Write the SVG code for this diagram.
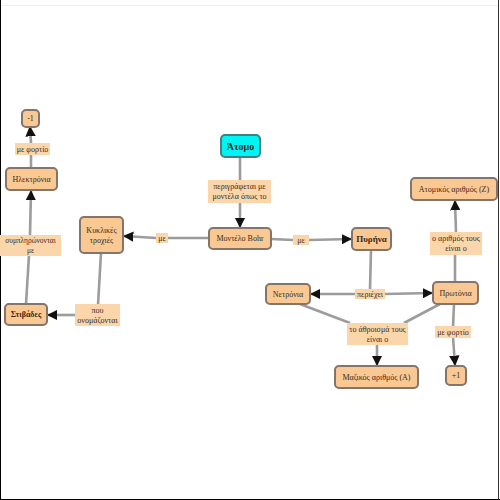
<svg xmlns="http://www.w3.org/2000/svg" width="500" height="500" viewBox="0 0 500 500">
<style>
.n rect{fill:#f9c893;stroke:#85746a;stroke-width:2}
.n text,.l text{font-family:"Liberation Serif","DejaVu Serif",serif;font-size:8px;fill:#3a2a1a;text-anchor:middle;dominant-baseline:central}
.l rect{fill:#fcd6ab}
.c path{fill:none;stroke:#9c9c9c;stroke-width:2.6}
#atomo rect{fill:#00f4f4;stroke:#3f8282}
.b{font-weight:bold}
#atomo text{font-size:10px}
#pyrinas text{font-size:9px}
#l5 text{font-size:7.4px}
</style>
<defs>
<marker id="a" viewBox="0 0 10 10" refX="9" refY="5" markerWidth="4" markerHeight="4" orient="auto" markerUnits="strokeWidth">
<path d="M0,0L10,5L0,10z" fill="#111"/>
</marker>
</defs>
<rect x="0" y="0" width="500" height="500" fill="#fff"/>
<g id="frame" fill="none">
<path d="M0,5.5H499" stroke="#eeeeee"/>
<path d="M0.5,0V500M0,499.5H500" stroke="#000"/>
<path d="M498.5,0V500" stroke="#333"/>
</g>
<g class="c">
<path d="M240,157V180"/>
<path d="M240,203V227" marker-end="url(#a)"/>
<path d="M209,238L168,238"/>
<path d="M156,238L124,236" marker-end="url(#a)"/>
<path d="M271,239L293,240"/>
<path d="M309,240L351,239" marker-end="url(#a)"/>
<path d="M101,253L98,305"/>
<path d="M75,315L48,315" marker-end="url(#a)"/>
<path d="M26,304L29,255"/>
<path d="M30,235L31,191" marker-end="url(#a)"/>
<path d="M31,168L31,155"/>
<path d="M31,143L30,127" marker-end="url(#a)"/>
<path d="M371,250L370,289"/>
<path d="M355,294L311,294" marker-end="url(#a)"/>
<path d="M385,294L432,293" marker-end="url(#a)"/>
<path d="M300,304L350,323"/>
<path d="M440,304L404,323"/>
<path d="M377,345V365" marker-end="url(#a)"/>
<path d="M455,282L455,255"/>
<path d="M456,232L455,201" marker-end="url(#a)"/>
<path d="M454,304L453,327"/>
<path d="M453,337L455,365" marker-end="url(#a)"/>
</g>
<g id="atomo" class="n"><rect x="221" y="135" width="39" height="22" rx="4"/><text x="240.5" y="146" class="b">Άτομο</text></g>
<g id="bohr" class="n"><rect x="209" y="228" width="62" height="21" rx="4"/><text x="240" y="238.5">Μοντέλο Bohr</text></g>
<g id="troxies" class="n"><rect x="80" y="217" width="43" height="36" rx="4"/><text x="101.5" y="230">Κυκλικές</text><text x="101.5" y="240">τροχιές</text></g>
<g id="pyrinas" class="n"><rect x="352" y="228" width="39" height="22" rx="4"/><text x="371.5" y="239" class="b">Πυρήνα</text></g>
<g id="stivades" class="n"><rect x="5" y="304" width="42" height="21" rx="4"/><text x="26" y="314.5" class="b">Στιβάδες</text></g>
<g id="ilektronia" class="n"><rect x="6" y="168" width="51" height="22" rx="4"/><text x="31.5" y="179">Ηλεκτρόνια</text></g>
<g id="minus1" class="n"><rect x="22" y="110" width="17" height="17" rx="4"/><text x="30.5" y="118.5">-1</text></g>
<g id="netronia" class="n"><rect x="266" y="284" width="44" height="20" rx="4"/><text x="288" y="294">Νετρόνια</text></g>
<g id="protonia" class="n"><rect x="433" y="282" width="45" height="22" rx="4"/><text x="455.5" y="293">Πρωτόνια</text></g>
<g id="mazikos" class="n"><rect x="335" y="366" width="83" height="22" rx="4"/><text x="376.5" y="377">Μαζικός αριθμός (A)</text></g>
<g id="plus1" class="n"><rect x="446" y="366" width="20" height="19" rx="4"/><text x="456" y="375.5">+1</text></g>
<g id="atomikos" class="n"><rect x="411" y="178" width="86" height="22" rx="4"/><text x="454" y="189">Ατομικός αριθμός (Z)</text></g>
<g class="l">
<g id="l1"><rect x="208" y="180" width="63" height="23"/><text x="239.5" y="186.5">περιγράφεται με</text><text x="239.5" y="196.5">μοντέλα όπως το</text></g>
<g id="l2"><rect x="156" y="233" width="12" height="10"/><text x="162" y="238">με</text></g>
<g id="l3"><rect x="293" y="235" width="16" height="10"/><text x="301" y="240">με</text></g>
<g id="l4"><rect x="75" y="304" width="45" height="22"/><text x="97.5" y="310">που</text><text x="97.5" y="320">ονομάζονται</text></g>
<g id="l5"><rect x="0" y="235" width="61" height="21"/><text x="30.5" y="240.5">συμπληρώνονται</text><text x="30.5" y="250.5">με</text></g>
<g id="l6"><rect x="15" y="143" width="35" height="12"/><text x="32.5" y="149">με φορτίο</text></g>
<g id="l7"><rect x="355" y="289" width="30" height="10"/><text x="370" y="294">περιέχει</text></g>
<g id="l8"><rect x="347" y="323" width="61" height="22"/><text x="377.5" y="329">το άθροισμά τους</text><text x="377.5" y="339">είναι ο</text></g>
<g id="l9"><rect x="435" y="326" width="36" height="12"/><text x="453" y="332">με φορτίο</text></g>
<g id="l10"><rect x="430" y="232" width="52" height="23"/><text x="456" y="238.5">ο αριθμός τους</text><text x="456" y="248.5">είναι ο</text></g>
</g>
</svg>
